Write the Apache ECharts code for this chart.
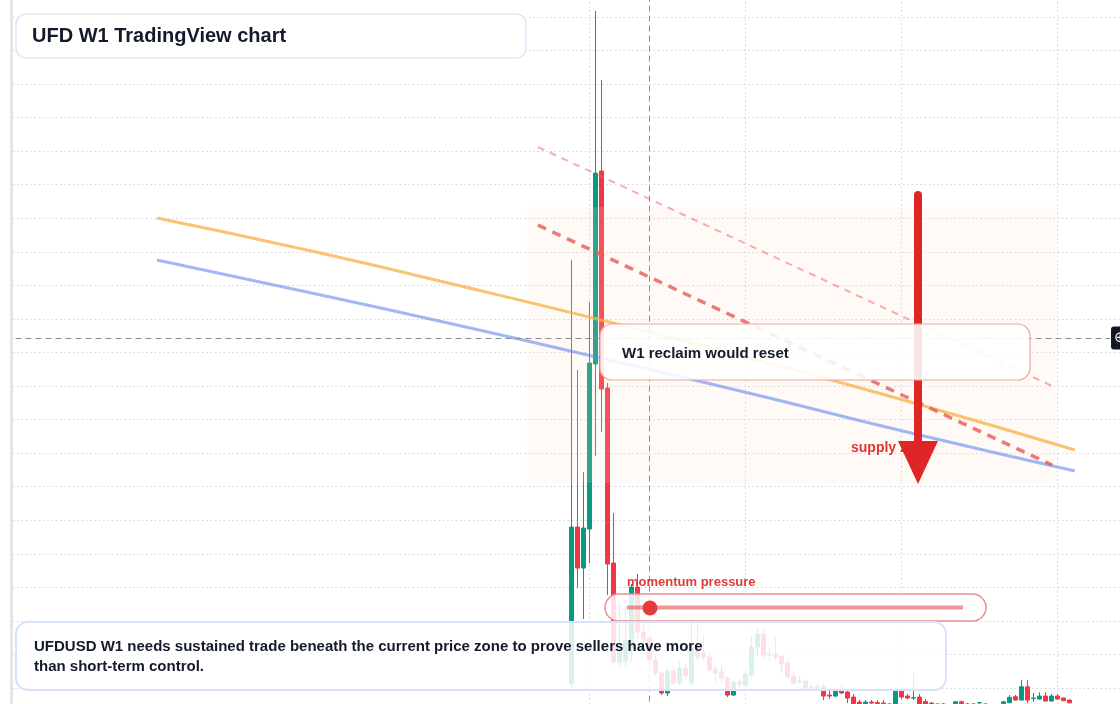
<!DOCTYPE html>
<html><head><meta charset="utf-8">
<script src="https://cdn.jsdelivr.net/npm/echarts@6/dist/echarts.min.js"></script>
<style>html,body{margin:0;padding:0;background:#fff}#chart{width:1120px;height:704px}</style>
</head><body><div id="chart"></div>
<script>
// ---- data (weekly bars, UFDUSD) ----
const firstWeek = 23; // week number of the first bar on the shared week scale
const open = [0.00375,0.01945,0.01535,0.01925,0.03575,0.05505,0.03335,0.01585,0.00595,0.00605,
0.00735,0.01345,0.00895,0.00835,0.00615,0.00485,0.00285,0.00505,0.00385,0.00535,
0.00385,0.00735,0.00685,0.00645,0.00525,0.00495,0.00435,0.00265,0.00395,0.00365,
0.00465,0.00745,0.00875,0.00675,0.00675,0.00655,0.00585,0.00455,0.00395,0.00405,
0.00335,0.00335,0.00355,0.00265,0.00255,0.00305,0.00295,0.00245,0.00195,0.00165,
0.00195,0.0019,0.00185,0.00165,0.00165,0.00315,0.00255,0.00235,0.00245,0.002,
0.00185,0.00155,0.00175,0.00165,0.0018,0.00198,0.00175,0.00155,0.00187,0.00175,
0.00165,0.00145,0.0018,0.00188,0.00248,0.00215,0.00348,0.0023,0.00225,0.00255,
0.00205,0.00255,0.00235,0.00215];
const close = [0.01945,0.01535,0.01935,0.03585,0.05485,0.03325,0.01575,0.00595,0.00765,0.00815,
0.01345,0.00895,0.00825,0.00615,0.00485,0.00285,0.00505,0.00385,0.00535,0.00455,
0.00735,0.00645,0.00645,0.00515,0.00485,0.00435,0.00265,0.00395,0.00375,0.00475,
0.00745,0.00875,0.00665,0.00665,0.00645,0.00575,0.00445,0.00385,0.00405,0.00335,
0.00345,0.00345,0.00255,0.00255,0.00305,0.00285,0.00235,0.0018,0.00165,0.00195,
0.00185,0.0018,0.00175,0.00175,0.00315,0.00245,0.00235,0.0024,0.00175,0.00165,
0.00155,0.00175,0.00145,0.00135,0.00198,0.0018,0.00155,0.00175,0.00189,0.00145,
0.00145,0.00165,0.00198,0.00242,0.00215,0.00348,0.00215,0.00235,0.00255,0.00205,
0.00255,0.00225,0.00208,0.00188];
const low = [0.00335,0.01335,0.01025,0.01585,0.02655,0.02895,0.01265,0.00565,0.00535,0.00545,
0.00595,0.00825,0.00765,0.00575,0.00455,0.00265,0.00255,0.00355,0.00365,0.00415,
0.00355,0.00615,0.00615,0.00495,0.00395,0.00385,0.00245,0.00255,0.00335,0.00335,
0.00445,0.00645,0.00615,0.00615,0.00615,0.00485,0.00435,0.00365,0.00385,0.00315,
0.00315,0.00315,0.00215,0.00225,0.00245,0.00275,0.00185,0.00155,0.00145,0.00155,
0.00165,0.00155,0.00155,0.00145,0.00155,0.00225,0.00225,0.00215,0.00155,0.00145,
0.00135,0.00145,0.00135,0.00125,0.00175,0.00165,0.00145,0.00145,0.00175,0.00135,
0.00135,0.00135,0.00175,0.00185,0.00208,0.0021,0.00185,0.00198,0.0022,0.002,
0.002,0.0022,0.00205,0.00185];
const high = [0.04615,0.03515,0.02495,0.04195,0.07105,0.06415,0.03385,0.02085,0.01185,0.01155,
0.01375,0.01475,0.00995,0.00875,0.00655,0.00515,0.00535,0.00545,0.00595,0.00575,
0.01025,0.01015,0.00865,0.00695,0.00565,0.00565,0.00455,0.00415,0.00425,0.00515,
0.00855,0.00925,0.00935,0.00745,0.00845,0.00655,0.00615,0.00495,0.00455,0.00425,
0.00375,0.00385,0.00375,0.00305,0.00315,0.00365,0.00305,0.00275,0.00215,0.00215,
0.00215,0.00215,0.00215,0.00185,0.00325,0.00335,0.00275,0.00485,0.00275,0.00225,
0.00195,0.00185,0.00185,0.00175,0.00205,0.0021,0.00185,0.00185,0.00195,0.00185,
0.00175,0.00175,0.00205,0.00265,0.00265,0.00415,0.00415,0.00285,0.00292,0.00292,
0.00275,0.00275,0.0024,0.0022];

// overlays (x in weeks on the same scale)
const slowAvgWeeks = [-46.1, -21.1, 3.9, 28.6, 53.9, 78.9, 106.9];
const slowAvg = [0.05035, 0.04715, 0.04365, 0.04005, 0.03615, 0.03205, 0.02715];
const fastAvgWeeks = [-46.1, -21.1, 3.9, 27.8, 53.9, 78.9, 106.9];
const fastAvg = [0.04615, 0.04295, 0.03965, 0.03635, 0.03265, 0.02895, 0.02505];
const trendWeeks = [17.4, 103.1];
const upperTrend = [0.05745, 0.03355];
const lowerTrend = [0.04965, 0.02565];
const zoneWeeks = [15.6, 103.6];
const zonePrice = [0.02385, 0.05145];
const arrowWeek = 80.75;
const arrowPrice = [0.05265, 0.02375];
const crossWeek = firstWeek + 13;
const crossPrice = 0.03835;
const timeGridWeeks = [26, 52, 78, 104];   // time-scale grid ticks (only where bars exist)
const yTickStep = 0.003355;

const candles = open.map((o, i) => [firstWeek + i, o, close[i], low[i], high[i]]);
const pairs = (xs, ys) => xs.map((x, i) => [x, ys[i]]);

const GREEN = '#089981', RED = '#f23645';
const FONT = '"Liberation Sans", Arial, sans-serif';
const dotted = { color: '#d3d6dc', width: 1, type: [1.7, 2.6] };

const chart = echarts.init(document.getElementById('chart'), null, { renderer: 'canvas' });
chart.setOption({
  animation: false,
  backgroundColor: '#ffffff',
  grid: { left: -34.5, right: -93.5, top: -16.55, bottom: -17.55, containLabel: false, outerBoundsMode: 'none' },
  xAxis: { type: 'value', min: -78, max: 130, interval: 26,
    axisLine: { show: false }, axisTick: { show: false }, axisLabel: { show: false },
    splitLine: { show: false } },
  yAxis: { type: 'value', min: 0, max: yTickStep * 22, interval: yTickStep, scale: false,
    axisLine: { show: false }, axisTick: { show: false }, axisLabel: { show: false },
    splitLine: { show: true, lineStyle: dotted } },
  series: [
    { type: 'line', name: 'time grid', z: 1, data: [], silent: true,
      markLine: { z: 1, symbol: ['none', 'none'], silent: true, animation: false,
        label: { show: false }, lineStyle: dotted,
        data: timeGridWeeks.map(w => ({ xAxis: w })) } },
    { type: 'custom', name: 'supply zone', z: 3, silent: true,
      data: [[zoneWeeks[0], zoneWeeks[1], zonePrice[0], zonePrice[1]]],
      encode: { x: [0, 1], y: [2, 3] },
      renderItem: (params, api) => {
        const a = api.coord([api.value(0), api.value(3)]);
        const b = api.coord([api.value(1), api.value(2)]);
        return { type: 'rect', shape: { x: a[0], y: a[1], width: b[0] - a[0], height: b[1] - a[1] },
          style: { fill: 'rgba(252,222,194,0.16)' } };
      } },
    { type: 'candlestick', name: 'UFDUSD W1', z: 2, barWidth: 3.8,
      data: candles, encode: { x: 0, y: [1, 2, 3, 4] },
      itemStyle: { color: GREEN, color0: RED, borderColor: GREEN, borderColor0: RED, borderWidth: 1 },
      markLine: { symbol: ['none', 'none'], silent: true, animation: false,
        data: [
          { yAxis: close[close.length - 1], lineStyle: { color: RED, type: [2, 2], width: 1.5 }, label: { show: false } },
          [ { coord: [-78, crossPrice], lineStyle: { color: '#8a8d96', type: [6, 4], width: 1 },
              label: { show: true, position: 'end', formatter: '\u2295', color: '#ffffff', backgroundColor: '#131722',
                       padding: [4, 4, 4, 3], borderRadius: 3, fontSize: 15, distance: 1 } },
            { coord: [112.75, crossPrice] } ],
          { xAxis: crossWeek, lineStyle: { color: '#8a8d96', type: [6, 4], width: 1 }, label: { show: false } }
        ] } },
    { type: 'line', name: 'slow average', z: 4, smooth: true, showSymbol: false, silent: true,
      data: pairs(slowAvgWeeks, slowAvg), lineStyle: { color: 'rgba(247,178,72,0.78)', width: 3 } },
    { type: 'line', name: 'fast average', z: 4, smooth: true, showSymbol: false, silent: true,
      data: pairs(fastAvgWeeks, fastAvg), lineStyle: { color: 'rgba(96,136,236,0.6)', width: 3 } },
    { type: 'line', name: 'upper trend', z: 4, showSymbol: false, silent: true,
      data: pairs(trendWeeks, upperTrend), lineStyle: { color: 'rgba(236,110,110,0.55)', width: 2, type: [7, 6] } },
    { type: 'line', name: 'lower trend', z: 4, showSymbol: false, silent: true,
      data: pairs(trendWeeks, lowerTrend), lineStyle: { color: 'rgba(232,90,90,0.8)', width: 3.5, type: [9, 7] } },
    { type: 'custom', name: 'arrow', z: 6, silent: true,
      data: [[arrowWeek, arrowPrice[0], arrowPrice[1]]],
      encode: { x: 0, y: [1, 2] },
      renderItem: (params, api) => {
        const top = api.coord([api.value(0), api.value(1)]);
        const tip = api.coord([api.value(0), api.value(2)]);
        const headLen = 43, headHalf = 20, baseY = tip[1] - headLen;
        return { type: 'group', children: [
          { type: 'line', shape: { x1: top[0], y1: top[1], x2: top[0], y2: baseY + 2 },
            style: { stroke: '#df2626', lineWidth: 8, lineCap: 'round' } },
          { type: 'polygon', shape: { points: [[tip[0] - headHalf, baseY], [tip[0] + headHalf, baseY], [tip[0], tip[1]]] },
            style: { fill: '#df2626' } }
        ] };
      } }
  ],
  graphic: { elements: [
    { type: 'rect', z: 100, shape: { x: 0, y: 0, width: 10, height: 704 }, style: { fill: '#ffffff' } },
    { type: 'rect', z: 100, shape: { x: 10, y: 0, width: 3, height: 704 }, style: { fill: '#e6e6e6' } },
    { type: 'text', z: 5, style: { x: 851, y: 448, text: 'supply zone', font: 'bold 14px ' + FONT, fill: '#e03535', verticalAlign: 'middle' } },
    { type: 'rect', z: 100, shape: { x: 16, y: 14, width: 510, height: 44, r: 10 }, style: { fill: '#ffffff', stroke: '#d3e1f5', lineWidth: 1.2 } },
    { type: 'text', z: 101, style: { x: 32, y: 36, text: 'UFD W1 TradingView chart', font: 'bold 20px ' + FONT, fill: '#131a2a', verticalAlign: 'middle' } },
    { type: 'rect', z: 100, shape: { x: 600, y: 324, width: 430, height: 56, r: 12 }, style: { fill: 'rgba(255,255,255,0.88)', stroke: '#eca6a6', lineWidth: 1.2 } },
    { type: 'text', z: 101, style: { x: 622, y: 354, text: 'W1 reclaim would reset', font: 'bold 15px ' + FONT, fill: '#131a2a', verticalAlign: 'middle' } },
    { type: 'text', z: 101, style: { x: 627, y: 582, text: 'momentum pressure', font: 'bold 13px ' + FONT, fill: '#e03a3a', verticalAlign: 'middle' } },
    { type: 'rect', z: 100, shape: { x: 605, y: 594, width: 381, height: 27, r: 13.5 }, style: { fill: 'rgba(255,255,255,0.85)', stroke: '#ec8e8e', lineWidth: 1.5 } },
    { type: 'line', z: 101, shape: { x1: 627, y1: 607.5, x2: 963, y2: 607.5 }, style: { stroke: 'rgba(232,80,80,0.6)', lineWidth: 4 } },
    { type: 'circle', z: 102, shape: { cx: 650, cy: 608, r: 7.5 }, style: { fill: '#e53b3b' } },
    { type: 'rect', z: 100, shape: { x: 16, y: 622, width: 930, height: 68, r: 12 }, style: { fill: 'rgba(255,255,255,0.85)', stroke: '#d6e3f8', lineWidth: 2 } },
    { type: 'text', z: 101, style: { x: 34, y: 657, text: 'UFDUSD W1 needs sustained trade beneath the current price zone to prove sellers have more\nthan short-term control.', font: 'bold 15px ' + FONT, fill: '#131a2a', verticalAlign: 'middle', lineHeight: 20 } }
  ] }
});
</script></body></html>
